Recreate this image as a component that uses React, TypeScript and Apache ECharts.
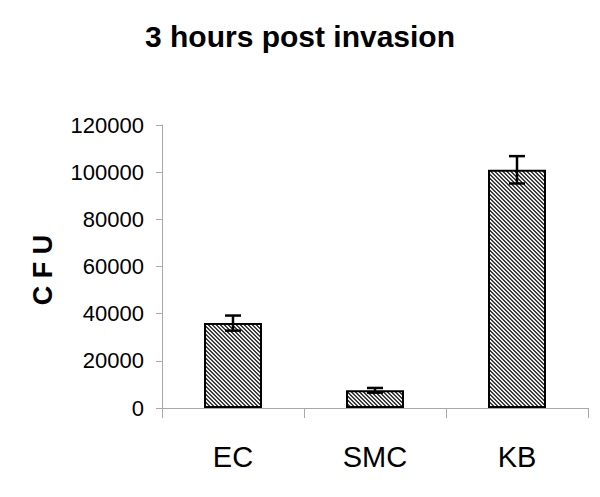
import React, { useEffect, useRef } from "react";
import * as echarts from "echarts";

const categories = ["EC", "SMC", "KB"];
const cfuMeans = [36000, 7500, 101000];
const cfuErrors = [3200, 1000, 5800];
const yTicks = { min: 0, max: 120000, interval: 20000 };
const titleText = "3 hours post invasion";
const yAxisTitle = "C F U";

const FONT = "'Liberation Sans', Arial, sans-serif";

function makePattern(): HTMLCanvasElement {
  const c = document.createElement("canvas");
  c.width = 4;
  c.height = 4;
  const ctx = c.getContext("2d")!;
  ctx.fillStyle = "#ececec";
  ctx.fillRect(0, 0, 4, 4);
  ctx.fillStyle = "#3c3c3c";
  for (let i = 0; i < 4; i++) {
    ctx.fillRect(i, i, 1, 1);
    ctx.fillRect(i, (i + 1) % 4, 1, 1);
  }
  return c;
}

export default function App() {
  const ref = useRef<HTMLDivElement>(null);
  useEffect(() => {
    if (!ref.current) return;
    const chart = echarts.init(ref.current, undefined, { renderer: "svg" });
    const pattern = makePattern();
    const errData = categories.map((_, i) => [i, cfuMeans[i] - cfuErrors[i], cfuMeans[i] + cfuErrors[i]]);
    chart.setOption({
      animation: false,
      backgroundColor: "#ffffff",
      title: {
        text: titleText,
        left: "center",
        top: 16,
        textStyle: { fontFamily: FONT, fontWeight: "bold", fontSize: 30, color: "#000" },
      },
      graphic: [
        {
          type: "text",
          x: 43,
          y: 270,
          rotation: Math.PI / 2,
          style: {
            text: yAxisTitle,
            fontFamily: FONT,
            fontWeight: "bold",
            fontSize: 27,
            fill: "#000",
            align: "center",
            verticalAlign: "middle",
          },
        },
      ],
      grid: { left: 162, right: 12, top: 125, bottom: 89, containLabel: false },
      xAxis: {
        type: "category",
        data: categories,
        boundaryGap: true,
        axisLine: { show: true, lineStyle: { color: "#a8a8a8", width: 1 } },
        axisTick: { show: true, length: 10, inside: false, alignWithLabel: false, lineStyle: { color: "#a8a8a8" } },
        axisLabel: { fontFamily: FONT, fontSize: 29, color: "#000", margin: 34 },
      },
      yAxis: {
        type: "value",
        min: yTicks.min,
        max: yTicks.max,
        interval: yTicks.interval,
        axisLine: { show: true, lineStyle: { color: "#a8a8a8", width: 1 } },
        axisTick: { show: true, length: 6, lineStyle: { color: "#a8a8a8" } },
        splitLine: { show: false },
        axisLabel: {
          fontFamily: FONT,
          fontSize: 22,
          color: "#000",
          margin: 18,
          formatter: (v: number) => String(v),
        },
      },
      series: [
        {
          type: "bar",
          data: cfuMeans,
          barWidth: 58,
          itemStyle: {
            color: { image: pattern, repeat: "repeat" },
            borderColor: "#000",
            borderWidth: 2,
          },
        },
        {
          type: "custom",
          data: errData,
          z: 10,
          renderItem: (params: any, api: any) => {
            const x = api.value(0);
            const lo = api.coord([x, api.value(1)]);
            const hi = api.coord([x, api.value(2)]);
            const half = 8;
            const style = { stroke: "#000", lineWidth: 2.5, fill: "none" };
            return {
              type: "group",
              children: [
                { type: "line", shape: { x1: lo[0], y1: lo[1], x2: hi[0], y2: hi[1] }, style },
                { type: "line", shape: { x1: hi[0] - half, y1: hi[1], x2: hi[0] + half, y2: hi[1] }, style },
                { type: "line", shape: { x1: lo[0] - half, y1: lo[1], x2: lo[0] + half, y2: lo[1] }, style },
              ],
            };
          },
        },
      ],
    });
    return () => chart.dispose();
  }, []);
  return <div ref={ref} style={{ width: 600, height: 497, margin: -8 }} />;
}
